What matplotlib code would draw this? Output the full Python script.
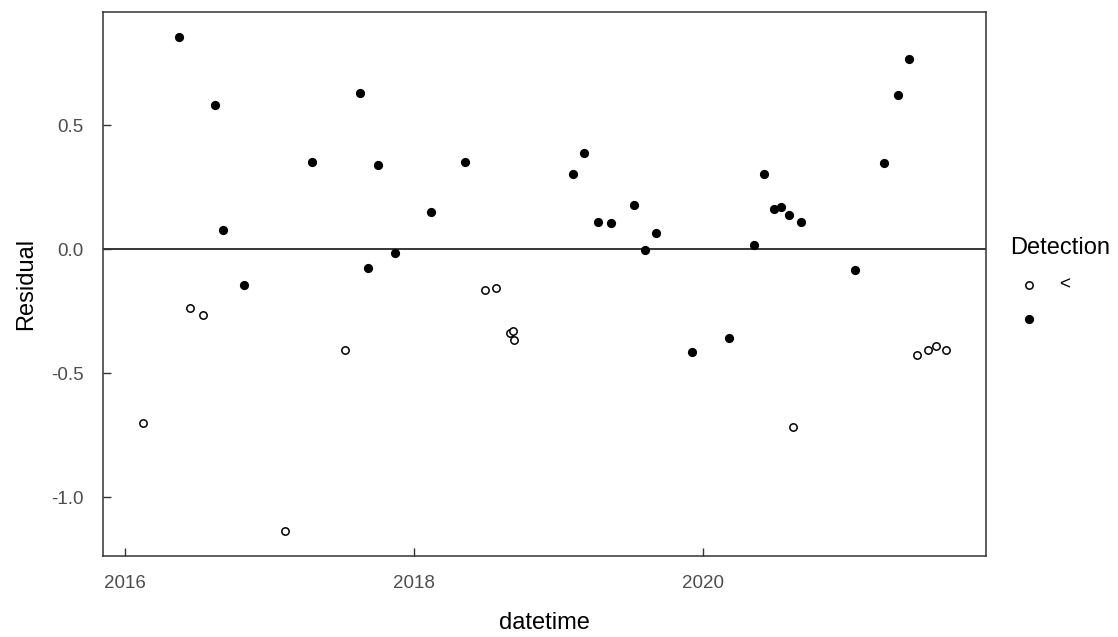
import numpy as np
import pandas as pd
import matplotlib
matplotlib.use("Agg")
import matplotlib.pyplot as plt
import matplotlib.dates as mdates

plt.rcParams['font.family'] = ['Liberation Sans', 'DejaVu Sans']

# detected samples (filled dots)
det_dates = ["2016-05-15", "2016-08-15", "2016-09-05", "2016-10-26", "2017-04-16",
             "2017-08-16", "2017-09-06", "2017-10-01", "2017-11-12", "2018-02-13",
             "2018-05-08", "2019-02-05", "2019-03-07", "2019-04-10", "2019-05-14",
             "2019-07-11", "2019-08-06", "2019-09-04", "2019-12-05", "2020-03-07",
             "2020-05-10", "2020-06-04", "2020-06-29", "2020-07-16", "2020-08-06",
             "2020-09-04", "2021-01-18", "2021-04-03", "2021-05-07", "2021-06-06"]
det_resid = [0.858, 0.582, 0.078, -0.144, 0.354,
             0.629, -0.075, 0.340, -0.016, 0.152,
             0.354, 0.306, 0.387, 0.112, 0.105,
             0.179, -0.003, 0.065, -0.412, -0.359,
             0.016, 0.306, 0.165, 0.173, 0.138,
             0.112, -0.083, 0.347, 0.622, 0.770]

# censored samples "<" (open circles)
cen_dates = ["2016-02-15", "2016-06-13", "2016-07-16", "2017-02-08", "2017-07-09",
             "2018-06-28", "2018-07-27", "2018-08-30", "2018-09-07", "2018-09-11",
             "2020-08-16", "2021-06-26", "2021-07-22", "2021-08-12", "2021-09-06"]
cen_resid = [-0.702, -0.237, -0.263, -1.137, -0.406,
             -0.165, -0.156, -0.338, -0.331, -0.367,
             -0.715, -0.425, -0.407, -0.391, -0.407]

det_x = pd.to_datetime(det_dates)
cen_x = pd.to_datetime(cen_dates)

fig = plt.figure(figsize=(11.18, 6.37), dpi=100)
ax = fig.add_axes([103 / 1118, 1 - 556 / 637, (986 - 103) / 1118, (556 - 12) / 637])

ax.axhline(0, color='black', lw=1.1, zorder=1)
h_cen = ax.scatter(cen_x, cen_resid, s=28, facecolors='white', edgecolors='black',
                   linewidths=1.1, zorder=3, label='<')
h_det = ax.scatter(det_x, det_resid, s=44, color='black', linewidths=0, zorder=3, label=' ')

# ggplot-like 5% expansion
allx = mdates.date2num(np.concatenate([det_x.values, cen_x.values]))
ally = np.array(det_resid + cen_resid)
dx = (allx.max() - allx.min()) * 0.05
dy = (ally.max() - ally.min()) * 0.05
ax.set_xlim(allx.min() - dx, allx.max() + dx)
ax.set_ylim(ally.min() - dy, ally.max() + dy)

ax.xaxis.set_major_locator(mdates.YearLocator(2))
ax.xaxis.set_major_formatter(mdates.DateFormatter('%Y'))
ax.set_yticks([-1.0, -0.5, 0.0, 0.5])
ax.set_yticklabels(['-1.0', '-0.5', '0.0', '0.5'])

for s in ax.spines.values():
    s.set_color('#333333')
    s.set_linewidth(1.1)
ax.tick_params(direction='in', length=5.5, width=1.0, color='#333333',
               labelcolor='#4D4D4D', labelsize=13.5, pad=14)

ax.set_xlabel('datetime', fontsize=17, labelpad=14)
ax.set_ylabel('Residual', fontsize=17, labelpad=10)

leg = ax.legend(handles=[h_cen, h_det], title='Detection', loc='upper left',
                bbox_to_anchor=(1003 / 1118, 1 - 229 / 637), bbox_transform=fig.transFigure,
                frameon=False, fontsize=13.5, title_fontsize=17, labelspacing=0.95,
                handletextpad=0.6, alignment='left', borderaxespad=0)

fig.savefig('out.png', dpi=100)
